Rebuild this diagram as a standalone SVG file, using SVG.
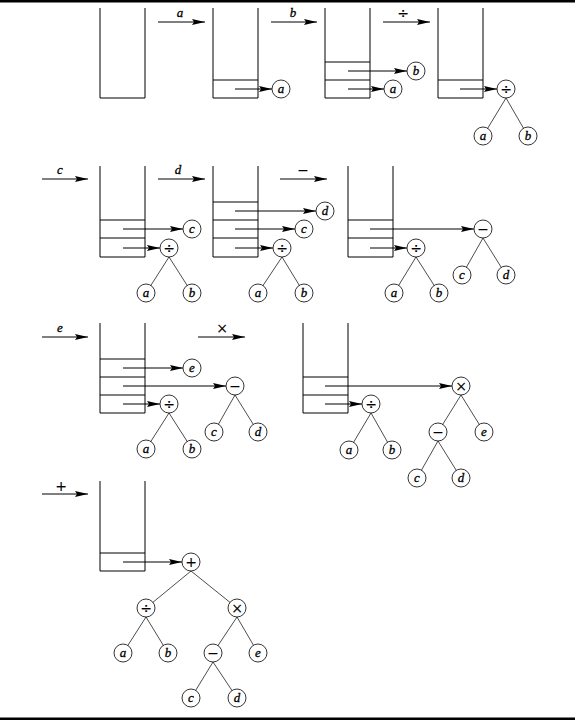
<svg xmlns="http://www.w3.org/2000/svg" width="575" height="720" viewBox="0 0 575 720">
<style>
.stk{fill:none;stroke:#000;stroke-width:1}
.nd circle{fill:#fff;stroke:#000;stroke-width:0.8}
.nd text{font-family:"Liberation Serif",serif;font-size:13px;text-anchor:middle;stroke:#000;stroke-width:0.3}
.nd text.op{font-family:"DejaVu Sans",sans-serif;font-size:14px;stroke-width:0.1}
.v{font-style:italic}
.ptr{stroke:#000;stroke-width:1;marker-end:url(#ah)}
.edge{stroke:#000;stroke-width:0.7}
.lbl{font-family:"Liberation Serif",serif;font-size:13px;text-anchor:middle;stroke:#000;stroke-width:0.3}
.lbl.op{font-family:"DejaVu Sans",sans-serif;font-size:14px;stroke-width:0.1}
.bar{fill:#000}
</style>
<defs>
<marker id="ah" markerUnits="userSpaceOnUse" markerWidth="14" markerHeight="8" refX="13" refY="4" orient="auto"><path d="M0,0.9 L13,4 L0,7.1 L2,4 z" fill="#000"/></marker>
</defs>
<rect class="bar" x="0" y="0" width="575" height="2.5"/>
<rect class="bar" x="0" y="717.5" width="575" height="2.5"/>

<g id="stacks">
<g id="stack1"><path class="stk" d="M100,8V98H145V8"/></g>
<g id="stack2"><path class="stk" d="M213,8V98H258V8M213,80H258"/></g>
<g id="stack3"><path class="stk" d="M325,8V98H370V8M325,62H370M325,80H370"/></g>
<g id="stack4"><path class="stk" d="M438,8V98H483V8M438,80H483"/></g>
<g id="stack5"><path class="stk" d="M100,166V257H145V166M100,220H145M100,238H145"/></g>
<g id="stack6"><path class="stk" d="M213,166V257H258V166M213,202H258M213,220H258M213,238H258"/></g>
<g id="stack7"><path class="stk" d="M348,166V257H393V166M348,220H393M348,238H393"/></g>
<g id="stack8"><path class="stk" d="M100,323V413H145V323M100,359H145M100,377H145M100,395H145"/></g>
<g id="stack9"><path class="stk" d="M303,323V413H348V323M303,377H348M303,395H348"/></g>
<g id="stack10"><path class="stk" d="M100,481V571H145V481M100,553H145"/></g>
</g>

<g id="connectors">
<line class="ptr" x1="158" y1="22" x2="205" y2="22"/><text class="lbl v" x="180" y="17">a</text>
<line class="ptr" x1="271" y1="22" x2="317" y2="22"/><text class="lbl v" x="293" y="17">b</text>
<line class="ptr" x1="383" y1="22" x2="430" y2="22"/><text class="lbl op" x="403" y="18">÷</text>
<line class="ptr" x1="42" y1="179" x2="88" y2="179"/><text class="lbl v" x="60" y="174">c</text>
<line class="ptr" x1="158" y1="179" x2="205" y2="179"/><text class="lbl v" x="178" y="174">d</text>
<line class="ptr" x1="280" y1="179" x2="327" y2="179"/><text class="lbl op" x="303" y="175">−</text>
<line class="ptr" x1="42" y1="337" x2="88" y2="337"/><text class="lbl v" x="60" y="332">e</text>
<line class="ptr" x1="198" y1="337" x2="245" y2="337"/><text class="lbl op" x="222" y="333">×</text>
<line class="ptr" x1="42" y1="494" x2="88" y2="494"/><text class="lbl op" x="61" y="491">+</text>
<line class="ptr" x1="235" y1="89" x2="272" y2="89"/>
<line class="ptr" x1="348" y1="71" x2="407" y2="71"/>
<line class="ptr" x1="348" y1="89" x2="384" y2="89"/>
<line class="ptr" x1="460" y1="89" x2="497" y2="89"/>
<line class="ptr" x1="123" y1="229" x2="183" y2="229"/>
<line class="ptr" x1="123" y1="248" x2="160" y2="248"/>
<line class="ptr" x1="235" y1="211" x2="316" y2="211"/>
<line class="ptr" x1="235" y1="229" x2="295" y2="229"/>
<line class="ptr" x1="235" y1="248" x2="273" y2="248"/>
<line class="ptr" x1="370" y1="229" x2="474" y2="229"/>
<line class="ptr" x1="370" y1="248" x2="407" y2="248"/>
<line class="ptr" x1="123" y1="368" x2="183" y2="368"/>
<line class="ptr" x1="123" y1="386" x2="226" y2="386"/>
<line class="ptr" x1="123" y1="404" x2="160" y2="404"/>
<line class="ptr" x1="325" y1="386" x2="452" y2="386"/>
<line class="ptr" x1="325" y1="404" x2="362" y2="404"/>
<line class="ptr" x1="123" y1="562" x2="182" y2="562"/>
<path class="edge" d="M506,98L483,136M506,98L528,136"/>
<path class="edge" d="M169,257L146,293M169,257L192,293"/>
<path class="edge" d="M282,257L258,293M282,257L304,293"/>
<path class="edge" d="M416,257L394,293M416,257L439,293"/>
<path class="edge" d="M483,238L462,275M483,238L506,275"/>
<path class="edge" d="M169,413L146,449M169,413L192,449"/>
<path class="edge" d="M235,395L214,432M235,395L258,432"/>
<path class="edge" d="M371,413L349,450M371,413L392,450"/>
<path class="edge" d="M461,395L438,432M461,395L484,432"/>
<path class="edge" d="M438,441L417,478M438,441L461,478"/>
<path class="edge" d="M191,571L146,608M191,571L237,608"/>
<path class="edge" d="M146,617L123,653M146,617L168,653"/>
<path class="edge" d="M237,617L213,653M237,617L258,653"/>
<path class="edge" d="M213,662L191,698M213,662L237,698"/>
</g>

<g id="nodes">
<g id="n1" class="nd"><circle cx="281" cy="89" r="9"/><text class="v" x="281" y="93">a</text></g>
<g id="n2" class="nd"><circle cx="416" cy="71" r="9"/><text class="v" x="416" y="75">b</text></g>
<g id="n3" class="nd"><circle cx="393" cy="89" r="9"/><text class="v" x="393" y="93">a</text></g>
<g id="n4" class="nd"><circle cx="506" cy="89" r="9"/><text class="op" x="506" y="94">÷</text></g>
<g id="n5" class="nd"><circle cx="483" cy="136" r="9"/><text class="v" x="483" y="140">a</text></g>
<g id="n6" class="nd"><circle cx="528" cy="136" r="9"/><text class="v" x="528" y="140">b</text></g>

<g id="n7" class="nd"><circle cx="192" cy="229" r="9"/><text class="v" x="192" y="233">c</text></g>
<g id="n8" class="nd"><circle cx="169" cy="248" r="9"/><text class="op" x="169" y="253">÷</text></g>
<g id="n9" class="nd"><circle cx="146" cy="293" r="9"/><text class="v" x="146" y="297">a</text></g>
<g id="n10" class="nd"><circle cx="192" cy="293" r="9"/><text class="v" x="192" y="297">b</text></g>

<g id="n11" class="nd"><circle cx="325" cy="211" r="9"/><text class="v" x="325" y="215">d</text></g>
<g id="n12" class="nd"><circle cx="304" cy="229" r="9"/><text class="v" x="304" y="233">c</text></g>
<g id="n13" class="nd"><circle cx="282" cy="248" r="9"/><text class="op" x="282" y="253">÷</text></g>
<g id="n14" class="nd"><circle cx="258" cy="293" r="9"/><text class="v" x="258" y="297">a</text></g>
<g id="n15" class="nd"><circle cx="304" cy="293" r="9"/><text class="v" x="304" y="297">b</text></g>

<g id="n16" class="nd"><circle cx="483" cy="229" r="9"/><text class="op" x="483" y="234">−</text></g>
<g id="n17" class="nd"><circle cx="416" cy="248" r="9"/><text class="op" x="416" y="253">÷</text></g>
<g id="n18" class="nd"><circle cx="394" cy="293" r="9"/><text class="v" x="394" y="297">a</text></g>
<g id="n19" class="nd"><circle cx="439" cy="293" r="9"/><text class="v" x="439" y="297">b</text></g>
<g id="n20" class="nd"><circle cx="462" cy="275" r="9"/><text class="v" x="462" y="279">c</text></g>
<g id="n21" class="nd"><circle cx="506" cy="275" r="9"/><text class="v" x="506" y="279">d</text></g>

<g id="n22" class="nd"><circle cx="192" cy="368" r="9"/><text class="v" x="192" y="372">e</text></g>
<g id="n23" class="nd"><circle cx="235" cy="386" r="9"/><text class="op" x="235" y="391">−</text></g>
<g id="n24" class="nd"><circle cx="169" cy="404" r="9"/><text class="op" x="169" y="409">÷</text></g>
<g id="n25" class="nd"><circle cx="146" cy="449" r="9"/><text class="v" x="146" y="453">a</text></g>
<g id="n26" class="nd"><circle cx="192" cy="449" r="9"/><text class="v" x="192" y="453">b</text></g>
<g id="n27" class="nd"><circle cx="214" cy="432" r="9"/><text class="v" x="214" y="436">c</text></g>
<g id="n28" class="nd"><circle cx="258" cy="432" r="9"/><text class="v" x="258" y="436">d</text></g>

<g id="n29" class="nd"><circle cx="461" cy="386" r="9"/><text class="op" x="461" y="391">×</text></g>
<g id="n30" class="nd"><circle cx="371" cy="404" r="9"/><text class="op" x="371" y="409">÷</text></g>
<g id="n31" class="nd"><circle cx="349" cy="450" r="9"/><text class="v" x="349" y="454">a</text></g>
<g id="n32" class="nd"><circle cx="392" cy="450" r="9"/><text class="v" x="392" y="454">b</text></g>
<g id="n33" class="nd"><circle cx="438" cy="432" r="9"/><text class="op" x="438" y="437">−</text></g>
<g id="n34" class="nd"><circle cx="484" cy="432" r="9"/><text class="v" x="484" y="436">e</text></g>
<g id="n35" class="nd"><circle cx="417" cy="478" r="9"/><text class="v" x="417" y="482">c</text></g>
<g id="n36" class="nd"><circle cx="461" cy="478" r="9"/><text class="v" x="461" y="482">d</text></g>

<g id="n37" class="nd"><circle cx="191" cy="562" r="9"/><text class="op" x="191" y="567">+</text></g>
<g id="n38" class="nd"><circle cx="146" cy="608" r="9"/><text class="op" x="146" y="613">÷</text></g>
<g id="n39" class="nd"><circle cx="237" cy="608" r="9"/><text class="op" x="237" y="613">×</text></g>
<g id="n40" class="nd"><circle cx="123" cy="653" r="9"/><text class="v" x="123" y="657">a</text></g>
<g id="n41" class="nd"><circle cx="168" cy="653" r="9"/><text class="v" x="168" y="657">b</text></g>
<g id="n42" class="nd"><circle cx="213" cy="653" r="9"/><text class="op" x="213" y="658">−</text></g>
<g id="n43" class="nd"><circle cx="258" cy="653" r="9"/><text class="v" x="258" y="657">e</text></g>
<g id="n44" class="nd"><circle cx="191" cy="698" r="9"/><text class="v" x="191" y="702">c</text></g>
<g id="n45" class="nd"><circle cx="237" cy="698" r="9"/><text class="v" x="237" y="702">d</text></g>
</g>
</svg>
